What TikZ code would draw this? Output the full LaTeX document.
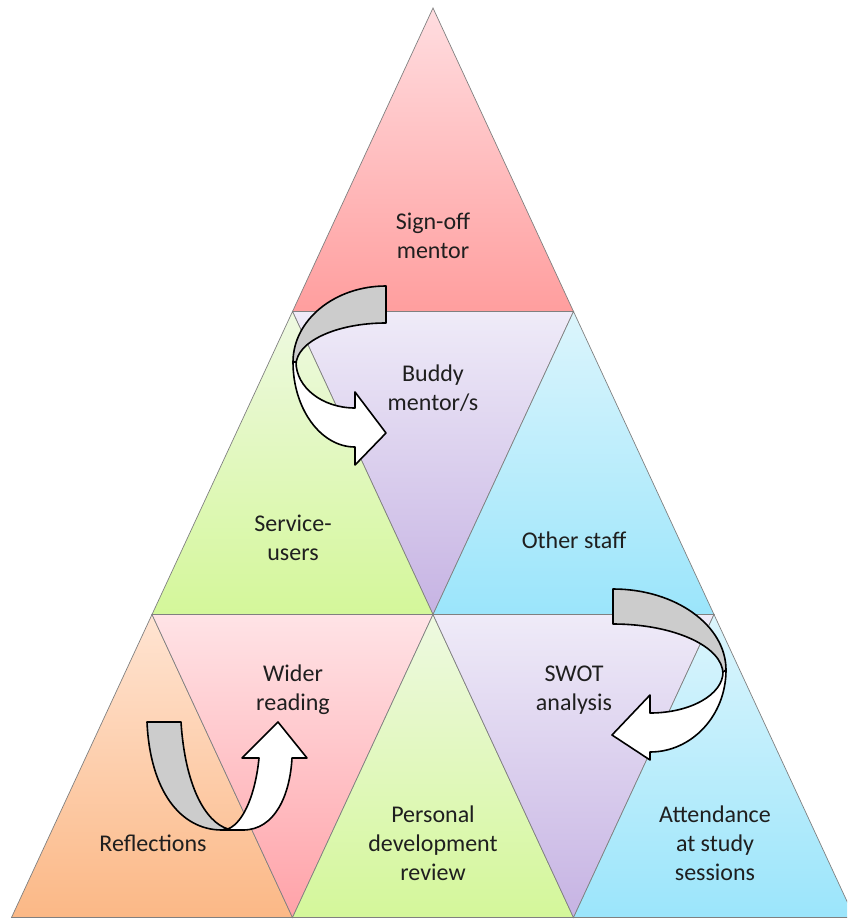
\documentclass[tikz,border=0pt]{standalone}
\usepackage{fontspec}
\setmainfont{Carlito}
\definecolor{pinkTop}{HTML}{FFDDE0}
\definecolor{pinkBot}{HTML}{FF9E9E}
\definecolor{lavTop}{HTML}{EFEBF8}
\definecolor{lavBot}{HTML}{C6B3E3}
\definecolor{grnTop}{HTML}{EEF9E1}
\definecolor{grnBot}{HTML}{D4F79A}
\definecolor{bluTop}{HTML}{DCF5FC}
\definecolor{bluBot}{HTML}{9BE5FB}
\definecolor{orgTop}{HTML}{FFE4D2}
\definecolor{orgBot}{HTML}{FBB886}
\definecolor{rosTop}{HTML}{FFE3E6}
\definecolor{rosBot}{HTML}{FFA2A8}
\begin{document}
\begin{tikzpicture}[x=1pt, y=-1pt, font=\fontsize{24}{29}\selectfont,
    tri/.style={draw=black!50, line width=0.7pt},
    lbl/.style={align=center, text=black!88, inner sep=0pt},
    back/.style={draw=black, line width=1.6pt, fill=black!20, line join=round},
    front/.style={draw=black, line width=1.6pt, fill=white, line join=round}]
    \path[use as bounding box, clip] (0,0) rectangle (847,920);
    \coordinate (a) at (433,8);
    \coordinate (b1) at (292.5,311.5);
    \coordinate (b2) at (573.5,311.5);
    \coordinate (c1) at (152,614.5);
    \coordinate (c2) at (433,614.5);
    \coordinate (c3) at (714,614.5);
    \coordinate (d1) at (11.5,917.5);
    \coordinate (d2) at (292.5,917.5);
    \coordinate (d3) at (573.5,917.5);
    \coordinate (d4) at (854.5,917.5);
    \draw[tri, top color=pinkTop, bottom color=pinkBot] (a) -- (b1) -- (b2) -- cycle;
    \draw[tri, top color=lavTop, bottom color=lavBot] (b1) -- (b2) -- (c2) -- cycle;
    \draw[tri, top color=grnTop, bottom color=grnBot] (b1) -- (c1) -- (c2) -- cycle;
    \draw[tri, top color=bluTop, bottom color=bluBot] (b2) -- (c2) -- (c3) -- cycle;
    \draw[tri, top color=orgTop, bottom color=orgBot] (c1) -- (d1) -- (d2) -- cycle;
    \draw[tri, top color=rosTop, bottom color=rosBot] (c1) -- (c2) -- (d2) -- cycle;
    \draw[tri, top color=grnTop, bottom color=grnBot] (c2) -- (d2) -- (d3) -- cycle;
    \draw[tri, top color=lavTop, bottom color=lavBot] (c2) -- (c3) -- (d3) -- cycle;
    \draw[tri, top color=bluTop, bottom color=bluBot] (c3) -- (d3) -- (d4) -- cycle;
    \node[lbl] (signoff) at (433,236) {Sign-off\\mentor};
    \node[lbl] (buddy) at (433,388) {Buddy\\mentor/s};
    \node[lbl] (service) at (293,538) {Service-\\users};
    \node[lbl] (other) at (574,540) {Other staff};
    \node[lbl] (wider) at (293,690) {Wider\\reading};
    \node[lbl] (swot) at (574,690) {SWOT\\analysis};
    \node[lbl] (reflect) at (153,843) {Reflections};
    \node[lbl] (personal) at (433,843) {Personal\\development\\review};
    \node[lbl] (attend) at (715,843) {Attendance\\at study\\sessions};
    % curved arrow, sign-off to buddy
    \draw[back] (386,286) .. controls (334.7,286) and (293,320) .. (293,362)
        -- (296,365) .. controls (296,341.8) and (336.3,323) .. (386,323) -- cycle;
    \draw[front] (293,362) .. controls (293,408.9) and (320.8,447) .. (355,447)
        -- (355,465) -- (386,433) -- (355,392) -- (355,408)
        .. controls (322.4,408) and (296,387.4) .. (296,362) -- cycle;
    % curved arrow, other staff to swot
    \draw[back] (613,589) .. controls (675.4,589) and (726,625.3) .. (726,670)
        -- (723,674) .. controls (723,646.4) and (673.7,624) .. (613,624) -- cycle;
    \draw[front] (726,670) .. controls (726,715.3) and (692,752) .. (650,752)
        -- (650,760) -- (612,735) -- (650,695) -- (650,713)
        .. controls (690.3,713) and (723,694.6) .. (723,672) -- cycle;
    % u-turn arrow, reflections to wider reading
    \draw[back] (147,722) -- (181,722) .. controls (185,785) and (205,822) .. (228,829)
        -- (222,830) .. controls (180,830) and (150,790) .. (147,722) -- cycle;
    \draw[front] (222,830) -- (243,830) .. controls (275,830) and (290,795) .. (292,758)
        -- (307,758) -- (278,722) -- (242,758) -- (259,758)
        .. controls (256,790) and (245,822) .. (228,829) -- cycle;
\end{tikzpicture}
\end{document}
